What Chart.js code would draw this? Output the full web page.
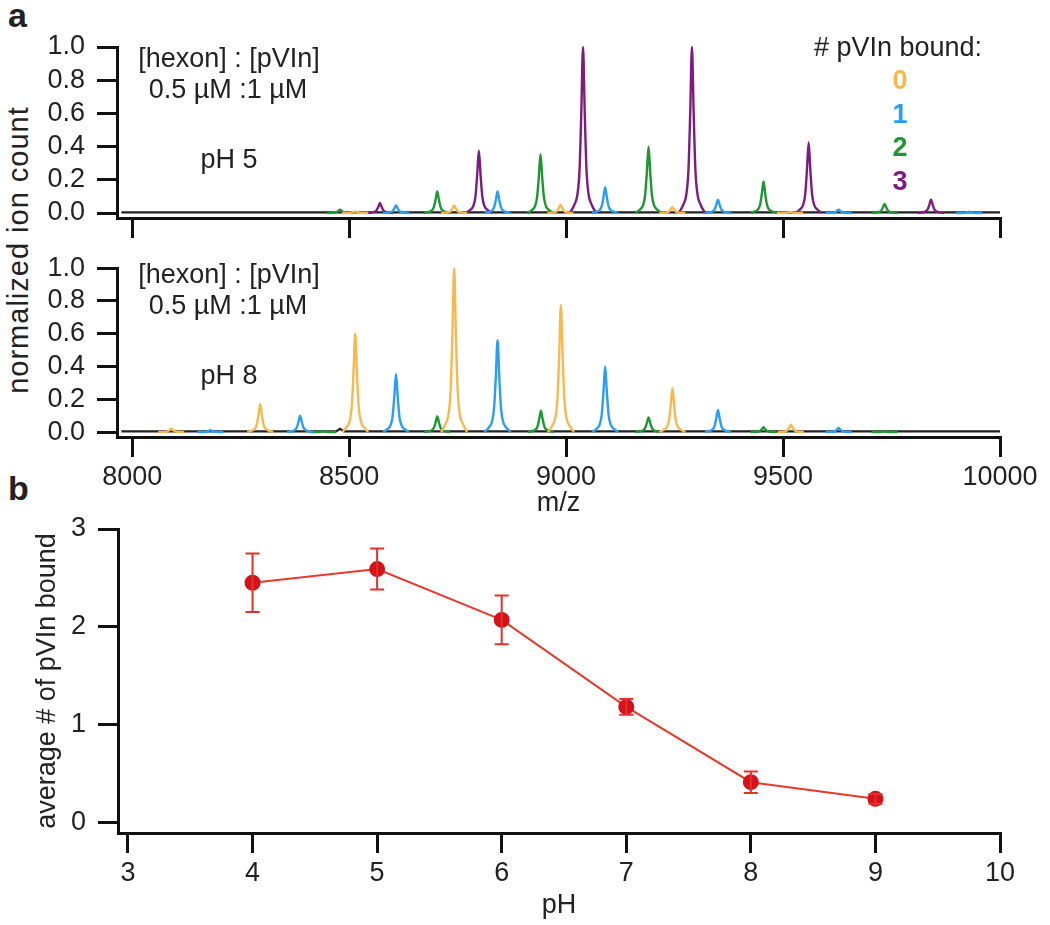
<!DOCTYPE html>
<html>
<head>
<meta charset="utf-8">
<script src="https://cdn.jsdelivr.net/npm/chart.js@4.4.1/dist/chart.umd.min.js"></script>
<style>
  body { margin: 0; background: #fff; }
  #wrap { position: relative; width: 1050px; height: 925px; font-family: "Liberation Sans", Arial, sans-serif; color: #222; }
  canvas { position: absolute; left: 0; }
  .lbl { position: absolute; font-size: 27px; white-space: nowrap; line-height: 1; }
  .panel { font-weight: bold; font-size: 34px; }
  #yTitleA { left: 18px; top: 250px; font-size: 29px; letter-spacing: 1px; transform: translate(-50%, -50%) rotate(-90deg); }
</style>
</head>
<body>
<div id="wrap">
  <div class="lbl panel" style="left:8px; top:-2px;">a</div>
  <div class="lbl panel" style="left:8px; top:471px;">b</div>
  <div class="lbl" id="yTitleA">normalized ion count</div>
  <canvas id="chartA" width="1050" height="250" style="top:0"></canvas>
  <canvas id="chartB" width="1050" height="280" style="top:240px"></canvas>
  <canvas id="chartC" width="1050" height="425" style="top:500px"></canvas>
</div>
<script>
// ---- data ----
const mzTicks = [8000, 8500, 9000, 9500, 10000];
const ionTicks = [0, 0.2, 0.4, 0.6, 0.8, 1.0];

// pH 5 spectrum: peak centres (m/z) and normalised heights, by # pVIn bound
const ph5Bound0Mz = [8514, 8742, 8987, 9245, 9516];
const ph5Bound0Int = [0.01, 0.045, 0.05, 0.035, 0.008];
const ph5Bound1Mz = [8608, 8842, 9090, 9350, 9628, 9929];
const ph5Bound1Int = [0.045, 0.13, 0.155, 0.08, 0.02, 0.008];
const ph5Bound2Mz = [8479, 8703, 8941, 9190, 9455, 9734];
const ph5Bound2Int = [0.02, 0.13, 0.355, 0.40, 0.19, 0.055];
const ph5Bound3Mz = [8571, 8799, 9039, 9290, 9559, 9841];
const ph5Bound3Int = [0.06, 0.375, 1.0, 1.0, 0.425, 0.08];
const ph5BaseMz = [7975, 10000];
const ph5BaseInt = [0.004, 0.004];

// pH 8 spectrum
const ph8Bound0Mz = [8090, 8295, 8514, 8742, 8988, 9245, 9518];
const ph8Bound0Int = [0.02, 0.17, 0.6, 1.0, 0.775, 0.27, 0.045];
const ph8Bound1Mz = [8180, 8387, 8608, 8842, 9090, 9350, 9628];
const ph8Bound1Int = [0.012, 0.10, 0.355, 0.56, 0.40, 0.135, 0.025];
const ph8Bound2Mz = [8440, 8703, 8942, 9190, 9455, 9734];
const ph8Bound2Int = [0.005, 0.095, 0.13, 0.09, 0.03, 0.005];
const ph8BaseMz = [7975, 8470, 8479, 8488, 10000];
const ph8BaseInt = [0.004, 0.004, 0.02, 0.004, 0.004];

// panel b
const phValues = [4, 5, 6, 7, 8, 9];
const avgBound = [2.45, 2.59, 2.07, 1.18, 0.41, 0.24];
const avgBoundErr = [0.30, 0.21, 0.25, 0.08, 0.11, 0.05];
const phTicks = [3, 4, 5, 6, 7, 8, 9, 10];
const boundTicks = [0, 1, 2, 3];

// ---- style ----
const COLORS = { b0: '#F8B84E', b1: '#2A9DF4', b2: '#1E9632', b3: '#7D1B80', base: '#222' };
const FONT = { family: '"Liberation Sans", Arial, sans-serif', size: 27 };
const TEXT = '#222';
// line shape used to draw each peak (offset in m/z, fraction of peak height)
const PEAK_OFFSETS = [-30, -20, -13, -8, -4, 0, 4, 8, 13, 20, 30];
const PEAK_SHAPE = [0, 0.05, 0.11, 0.26, 0.6, 1, 0.6, 0.26, 0.11, 0.05, 0];

function peakSeries(centres, heights) {
    const pts = [];
    centres.forEach((c, i) => {
        PEAK_OFFSETS.forEach((o, k) => pts.push({ x: c + o, y: heights[i] * PEAK_SHAPE[k] }));
        pts.push({ x: c + 31, y: null });
    });
    return pts;
}

function peakDataset(centres, heights, color) {
    return {
        data: peakSeries(centres, heights),
        borderColor: color,
        borderWidth: 2.4,
        pointRadius: 0,
        cubicInterpolationMode: 'monotone',
        spanGaps: false,
        clip: 6,
        order: 0
    };
}

function baseDataset(mz, vals) {
    return {
        data: mz.map((m, i) => ({ x: m, y: vals[i] })),
        borderColor: COLORS.base,
        borderWidth: 2.2,
        pointRadius: 0,
        order: 5
    };
}

const fixedTicks = list => scale => { scale.ticks = list.map(v => ({ value: v })); };

function axisLook() {
    return {
        grid: { drawOnChartArea: false, drawTicks: true, tickLength: 20, tickWidth: 3, tickColor: '#111', color: '#111', lineWidth: 3 },
        border: { display: true, color: '#111', width: 3 }
    };
}

// text drawn inside a chart at fixed canvas positions
function notes(items) {
    return {
        id: 'notes',
        afterDraw(chart) {
            const ctx = chart.ctx;
            ctx.save();
            ctx.textAlign = 'center';
            ctx.textBaseline = 'middle';
            items.forEach(it => {
                ctx.font = (it.bold ? 'bold ' : '') + FONT.size + 'px ' + FONT.family;
                ctx.fillStyle = it.color || TEXT;
                ctx.fillText(it.text, it.x, it.y);
            });
            ctx.restore();
        }
    };
}

function spectrumOptions(padTop, xHeight, showLabels) {
    const x = Object.assign(axisLook(), {
        type: 'linear', min: 7965, max: 10000,
        afterBuildTicks: fixedTicks(mzTicks),
        afterFit: s => { s.height = xHeight; },
        ticks: { display: showLabels, font: FONT, color: TEXT, padding: 4, maxRotation: 0, autoSkip: false, callback: v => String(v) }
    });
    if (showLabels) {
        x.title = { display: true, text: 'm/z', font: FONT, color: TEXT, padding: { top: 0, bottom: 0 } };
    }
    const y = Object.assign(axisLook(), {
        min: -0.03, max: 1,
        afterBuildTicks: fixedTicks(ionTicks),
        afterFit: s => { s.width = 117; },
        ticks: { font: FONT, color: TEXT, padding: 12, autoSkip: false, callback: v => Number(v).toFixed(1) }
    });
    return {
        responsive: false, animation: false, devicePixelRatio: 1,
        layout: { padding: { top: padTop, right: 50, left: 0, bottom: 0 } },
        plugins: { legend: { display: false }, tooltip: { enabled: false } },
        scales: { x, y }
    };
}

// ---- panel a, pH 5 ----
new Chart(document.getElementById('chartA'), {
    type: 'line',
    data: {
        datasets: [
            baseDataset(ph5BaseMz, ph5BaseInt),
            peakDataset(ph5Bound0Mz, ph5Bound0Int, COLORS.b0),
            peakDataset(ph5Bound1Mz, ph5Bound1Int, COLORS.b1),
            peakDataset(ph5Bound2Mz, ph5Bound2Int, COLORS.b2),
            peakDataset(ph5Bound3Mz, ph5Bound3Int, COLORS.b3)
        ]
    },
    options: spectrumOptions(47, 32, false),
    plugins: [notes([
        { text: '[hexon] : [pVIn]', x: 229, y: 60 },
        { text: '0.5 \u00B5M :1 \u00B5M', x: 228, y: 91 },
        { text: 'pH 5', x: 229, y: 161 },
        { text: '# pVIn bound:', x: 898, y: 49 },
        { text: '0', x: 900, y: 82, bold: true, color: COLORS.b0 },
        { text: '1', x: 900, y: 116, bold: true, color: COLORS.b1 },
        { text: '2', x: 900, y: 149, bold: true, color: COLORS.b2 },
        { text: '3', x: 900, y: 183, bold: true, color: COLORS.b3 }
    ])]
});

// ---- panel a, pH 8 ----
new Chart(document.getElementById('chartB'), {
    type: 'line',
    data: {
        datasets: [
            baseDataset(ph8BaseMz, ph8BaseInt),
            peakDataset(ph8Bound0Mz, ph8Bound0Int, COLORS.b0),
            peakDataset(ph8Bound1Mz, ph8Bound1Int, COLORS.b1),
            peakDataset(ph8Bound2Mz, ph8Bound2Int, COLORS.b2)
        ]
    },
    options: spectrumOptions(23, 83, true),
    plugins: [notes([
        { text: '[hexon] : [pVIn]', x: 229, y: 36 },
        { text: '0.5 \u00B5M :1 \u00B5M', x: 228, y: 67 },
        { text: 'pH 8', x: 229, y: 137 }
    ])]
});

// ---- panel b ----
const errorBars = {
    id: 'errorBars',
    afterDatasetsDraw(chart) {
        const { ctx, scales: { x, y } } = chart;
        ctx.save();
        ctx.strokeStyle = '#E0312B';
        ctx.lineWidth = 2;
        phValues.forEach((p, i) => {
            const px = x.getPixelForValue(p);
            const top = y.getPixelForValue(avgBound[i] + avgBoundErr[i]);
            const bot = y.getPixelForValue(avgBound[i] - avgBoundErr[i]);
            ctx.beginPath();
            ctx.moveTo(px, top); ctx.lineTo(px, bot);
            ctx.moveTo(px - 7, top); ctx.lineTo(px + 7, top);
            ctx.moveTo(px - 7, bot); ctx.lineTo(px + 7, bot);
            ctx.stroke();
        });
        ctx.restore();
    }
};

new Chart(document.getElementById('chartC'), {
    type: 'line',
    data: {
        datasets: [{
            data: phValues.map((p, i) => ({ x: p, y: avgBound[i] })),
            borderColor: '#E8392F',
            borderWidth: 2,
            pointRadius: 7,
            pointBackgroundColor: '#D4121A',
            pointBorderColor: '#D4121A',
            tension: 0
        }]
    },
    options: {
        responsive: false, animation: false, devicePixelRatio: 1,
        layout: { padding: { top: 29, right: 50, left: 0, bottom: 0 } },
        plugins: { legend: { display: false }, tooltip: { enabled: false } },
        scales: {
            x: Object.assign(axisLook(), {
                type: 'linear', min: 2.92, max: 10,
                afterBuildTicks: fixedTicks(phTicks),
                afterFit: s => { s.height = 92; },
                ticks: { font: FONT, color: TEXT, padding: 4, maxRotation: 0, autoSkip: false },
                title: { display: true, text: 'pH', font: FONT, color: TEXT, padding: { top: 0, bottom: 3 } }
            }),
            y: Object.assign(axisLook(), {
                min: -0.11, max: 3,
                afterBuildTicks: fixedTicks(boundTicks),
                afterFit: s => { s.width = 118; },
                ticks: { font: FONT, color: TEXT, padding: 12, autoSkip: false },
                title: { display: true, text: 'average # of pVIn bound', font: FONT, color: TEXT, padding: { top: 31, bottom: 0 } }
            })
        }
    },
    plugins: [errorBars]
});
</script>
</body>
</html>
